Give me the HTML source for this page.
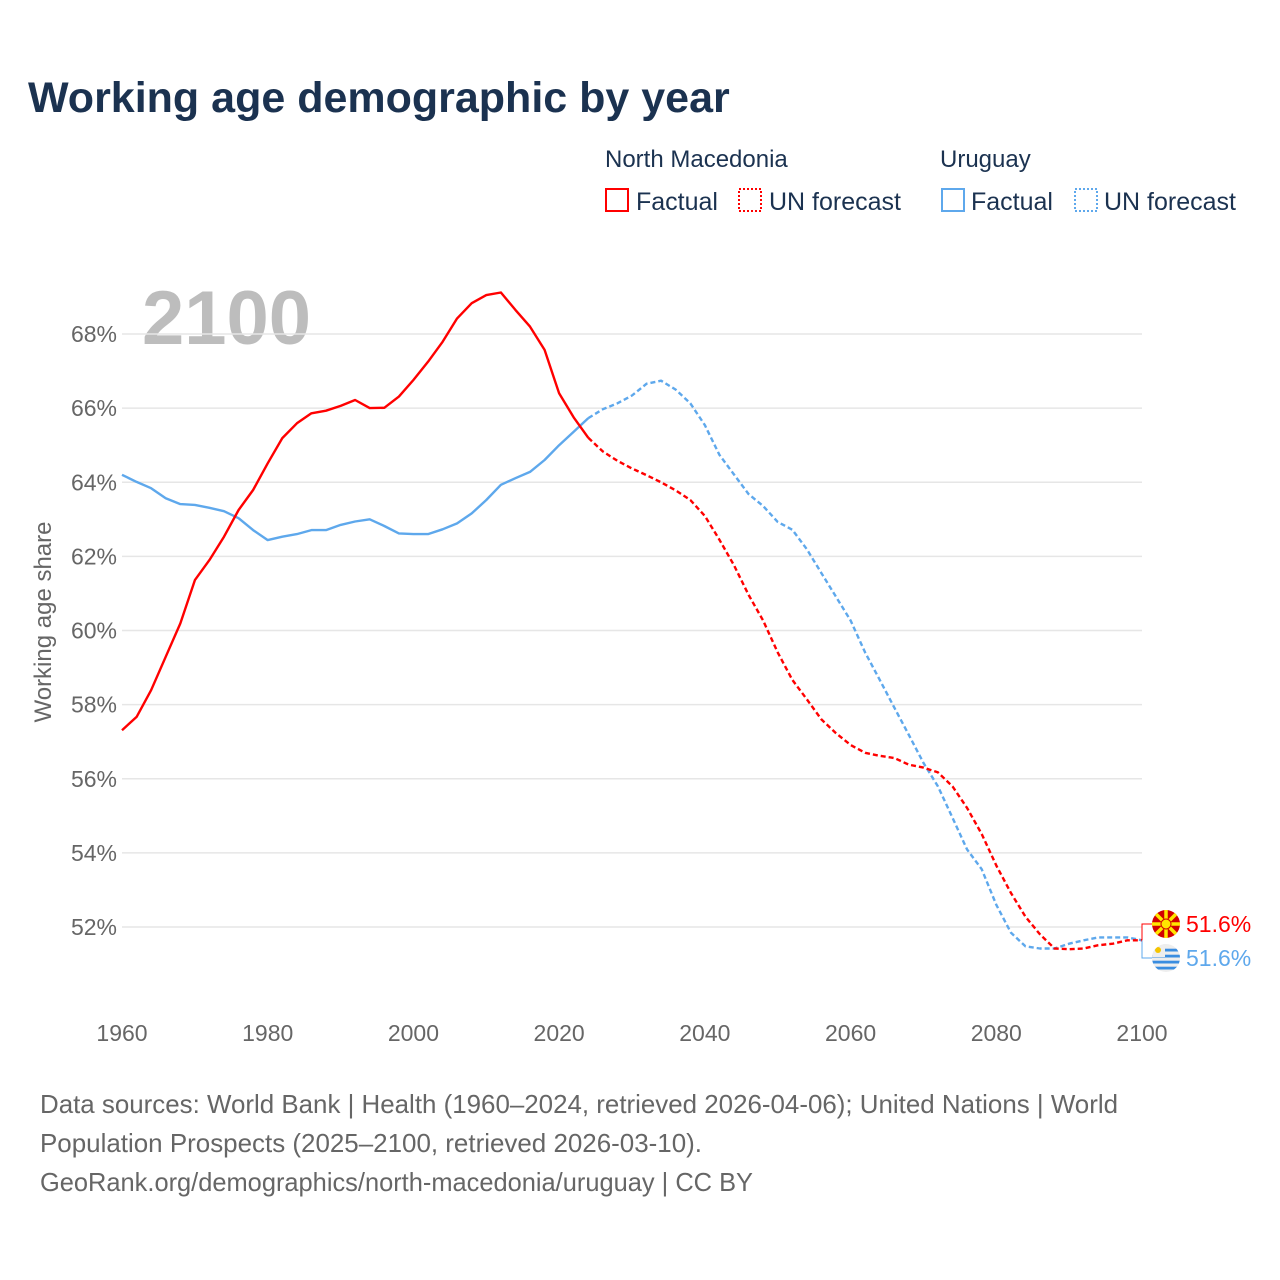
<!DOCTYPE html>
<html><head><meta charset="utf-8"><style>
body{margin:0;background:#fff;}
svg{display:block;font-family:"Liberation Sans",sans-serif;}
</style></head><body>
<svg id="chart" width="1280" height="1280" viewBox="0 0 1280 1280">
<text x="28" y="112" font-size="43" font-weight="bold" fill="#1b3250">Working age demographic by year</text>
<g>
<text x="605" y="167" font-size="24" fill="#1b3250">North Macedonia</text>
<text x="940" y="167" font-size="24" fill="#1b3250">Uruguay</text>
<rect x="606" y="189" width="22" height="22" fill="none" stroke="#f00" stroke-width="2"/>
<text x="636" y="210" font-size="25" fill="#1b3250">Factual</text>
<rect x="739" y="189" width="22" height="22" fill="none" stroke="#f00" stroke-width="2" stroke-dasharray="2,2"/>
<text x="769" y="210" font-size="25" fill="#1b3250">UN forecast</text>
<rect x="942" y="189" width="22" height="22" fill="none" stroke="#5ea8ec" stroke-width="2"/>
<text x="971" y="210" font-size="25" fill="#1b3250">Factual</text>
<rect x="1075" y="189" width="22" height="22" fill="none" stroke="#5ea8ec" stroke-width="2" stroke-dasharray="2,2"/>
<text x="1104" y="210" font-size="25" fill="#1b3250">UN forecast</text>
</g>
<text x="142" y="344" font-size="76" font-weight="bold" fill="#bdbdbd">2100</text>
<text transform="translate(51,622) rotate(-90)" text-anchor="middle" font-size="24" fill="#666">Working age share</text>
<g id="grid"></g><g id="ylabels"></g><g id="xlabels"></g><g id="lines"></g><g id="ends"></g>
<g font-size="26" fill="#666">
<text x="40" y="1113" textLength="1078" lengthAdjust="spacingAndGlyphs">Data sources: World Bank | Health (1960–2024, retrieved 2026-04-06); United Nations | World</text>
<text x="40" y="1152" textLength="662" lengthAdjust="spacingAndGlyphs">Population Prospects (2025–2100, retrieved 2026-03-10).</text>
<text x="40" y="1191" textLength="713" lengthAdjust="spacingAndGlyphs">GeoRank.org/demographics/north-macedonia/uruguay | CC BY</text>
</g>
</svg>
<script>
const yTicks = [52,54,56,58,60,62,64,66,68];
const xTicks = [1960,1980,2000,2020,2040,2060,2080,2100];
const factYears = [1960,1962,1964,1966,1968,1970,1972,1974,1976,1978,1980,1982,1984,1986,1988,1990,1992,1994,1996,1998,2000,2002,2004,2006,2008,2010,2012,2014,2016,2018,2020,2022,2024];
const mkFactual = [57.31,57.67,58.39,59.29,60.19,61.36,61.9,62.53,63.25,63.79,64.51,65.19,65.59,65.86,65.93,66.06,66.22,66.0,66.01,66.31,66.76,67.25,67.79,68.42,68.83,69.05,69.12,68.65,68.2,67.57,66.4,65.75,65.2];
const uyFactual = [64.2,64.01,63.84,63.57,63.41,63.39,63.31,63.22,63.03,62.71,62.44,62.53,62.6,62.71,62.71,62.85,62.94,63.0,62.82,62.62,62.6,62.6,62.73,62.89,63.16,63.52,63.93,64.11,64.28,64.6,65.0,65.36,65.73];
const fcYears = [2024,2026,2028,2030,2032,2034,2036,2038,2040,2042,2044,2046,2048,2050,2052,2054,2056,2058,2060,2062,2064,2066,2068,2070,2072,2074,2076,2078,2080,2082,2084,2086,2088,2090,2092,2094,2096,2098,2100];
const mkForecast = [65.2,64.83,64.58,64.37,64.19,64.0,63.78,63.52,63.09,62.45,61.76,60.96,60.27,59.41,58.67,58.14,57.6,57.23,56.91,56.7,56.62,56.56,56.38,56.3,56.17,55.79,55.21,54.51,53.66,52.92,52.28,51.8,51.42,51.4,51.42,51.51,51.55,51.64,51.64];
const uyForecast = [65.73,65.97,66.13,66.34,66.66,66.74,66.5,66.13,65.54,64.74,64.21,63.68,63.36,62.93,62.72,62.19,61.55,60.91,60.27,59.41,58.67,57.92,57.18,56.43,55.79,54.94,54.09,53.56,52.6,51.85,51.48,51.42,51.42,51.55,51.64,51.72,51.72,51.72,51.64];
const endLabels = ["51.6%","51.6%"];

const NS="http://www.w3.org/2000/svg";
const X = yr => 122 + (yr-1960)*(1142-122)/140;
const Y = v => 334 + (68-v)*(927-334)/16;
function mk(tag, attrs, parent){const e=document.createElementNS(NS,tag);for(const k in attrs)e.setAttribute(k,attrs[k]);document.getElementById(parent).appendChild(e);return e;}

yTicks.forEach(t=>{
  const l=mk('line',{x1:122,x2:1142,y1:Y(t),y2:Y(t),stroke:'#e6e6e6','stroke-width':1.5},'grid');
  
  
  const tx=mk('text',{x:117,y:Y(t)+8,'text-anchor':'end','font-size':23,fill:'#666'},'ylabels');
  tx.textContent=t+'%';
  
  
});
xTicks.forEach(t=>{
  const tx=mk('text',{x:X(t),y:1041,'text-anchor':'middle','font-size':23,fill:'#666'},'xlabels');
  tx.textContent=t;
  
  
});
function path(xs,vs){return xs.map((y,i)=>(i?'L':'M')+X(y).toFixed(1)+','+Y(vs[i]).toFixed(1)).join('');}
const series=[
 ['uy-factual-line',factYears,uyFactual,'#5ea8ec',null],
 ['uy-forecast-line',fcYears,uyForecast,'#5ea8ec','5,3'],
 ['mk-factual-line',factYears,mkFactual,'#f00',null],
 ['mk-forecast-line',fcYears,mkForecast,'#f00','5,3']];
series.forEach(s=>{
  const p=mk('path',{d:path(s[1],s[2]),fill:'none',stroke:s[3],'stroke-width':2.4,'stroke-linejoin':'round'},'lines');
  if(s[4])p.setAttribute('stroke-dasharray',s[4]);
  
  
});
const ex=X(2100);
const mkEnd=Y(mkForecast[mkForecast.length-1]), uyEnd=Y(uyForecast[uyForecast.length-1]);
const b1=mk('path',{d:`M${ex},${mkEnd}L${ex},924L1152,924`,fill:'none',stroke:'#f00','stroke-width':1},'ends');


const b2=mk('path',{d:`M${ex},${uyEnd}L${ex},958L1152,958`,fill:'none',stroke:'#5ea8ec','stroke-width':1},'ends');


const f1=mk('g',{},'ends');


f1.innerHTML='<circle cx="1166" cy="924" r="14" fill="#d20000"/>'+
 [0,45,90,135].map(a=>`<path d="M1152,924L1180,924" stroke="#ffe600" stroke-width="3.5" transform="rotate(${a} 1166 924)"/>`).join('')+
 '<circle cx="1166" cy="924" r="5" fill="#ffe600" stroke="#d20000" stroke-width="1"/>';
const f2=mk('g',{},'ends');


f2.innerHTML='<clipPath id="uc"><circle cx="1166" cy="958" r="14"/></clipPath><g clip-path="url(#uc)"><rect x="1152" y="944" width="28" height="28" fill="#eee"/>'+
 [950,956,962,968].map(y=>`<rect x="1152" y="${y-1.3}" width="28" height="2.8" fill="#3a8de0"/>`).join('')+
 '<rect x="1152" y="944" width="13" height="13" fill="#eee"/><circle cx="1158" cy="950" r="3" fill="#f5c400"/></g>';
const l1=mk('text',{x:1186,y:932,'font-size':23,fill:'#f00'},'ends');
l1.textContent=endLabels[0];


const l2=mk('text',{x:1186,y:966,'font-size':23,fill:'#5ea8ec'},'ends');
l2.textContent=endLabels[1];


</script>
</body></html>
